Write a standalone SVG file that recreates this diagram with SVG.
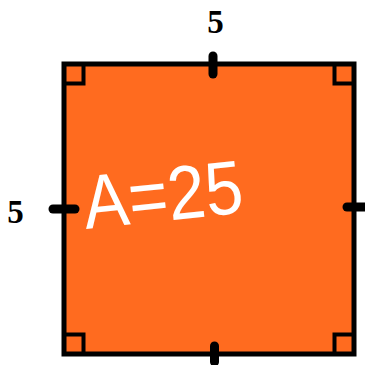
<svg xmlns="http://www.w3.org/2000/svg" width="365" height="365" viewBox="0 0 365 365">
<style>
.sq{fill:#FF6B1F;stroke:#000;stroke-width:5}
.mk{fill:none;stroke:#000;stroke-width:4}
.tk{stroke:#000;stroke-width:9;stroke-linecap:round}
.lbl{font-family:"Liberation Serif",serif;font-weight:bold;font-size:33px;fill:#000;text-anchor:middle}
.hw{font-family:"Liberation Sans",sans-serif;font-size:76px;fill:#fff}
</style>
<rect x="0" y="0" width="365" height="365" fill="#fff"/>
<g id="square">
<rect class="sq" x="64" y="64" width="290" height="290"/>
<path class="mk" d="M66,83.5 H83.5 V66"/>
<path class="mk" d="M334.5,66 V83.5 H352"/>
<path class="mk" d="M66,334.5 H83.5 V352"/>
<path class="mk" d="M334.5,352 V334.5 H352"/>
</g>
<g id="ticks">
<line class="tk" x1="213" y1="56" x2="213" y2="74"/>
<line class="tk" x1="214.5" y1="346" x2="214.5" y2="362"/>
<line class="tk" x1="53" y1="209" x2="75" y2="209"/>
<line class="tk" x1="347" y1="207" x2="367" y2="207"/>
</g>
<g id="labels">
<text class="lbl" x="215.5" y="33">5</text>
<text class="lbl" x="15.5" y="223">5</text>
</g>
<g id="area">
<text class="hw" x="86" y="229" textLength="160" lengthAdjust="spacingAndGlyphs" transform="rotate(-6 86 229)">A=25</text>
</g>
</svg>
